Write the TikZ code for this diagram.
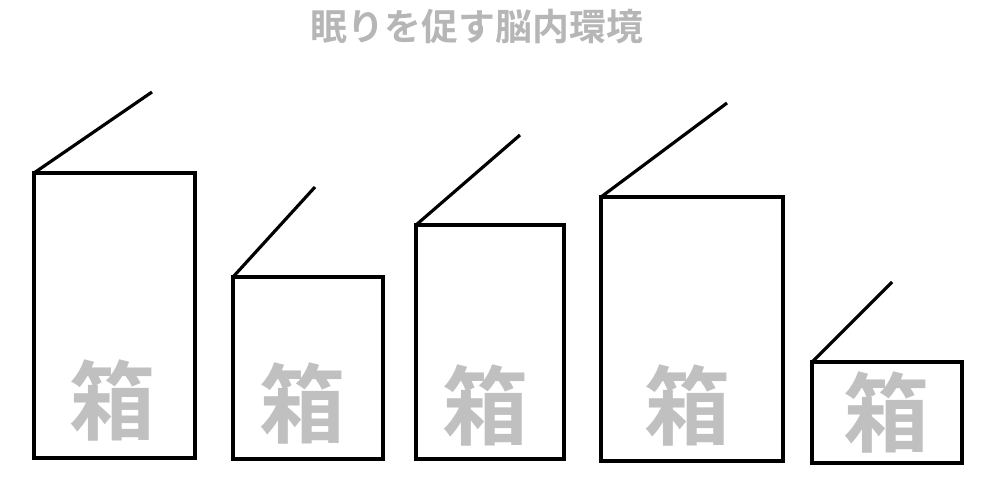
\documentclass[tikz,border=0pt]{standalone}
\usepackage{fontspec}
\newfontfamily\jpbold{Noto Sans CJK JP Bold}
\definecolor{titlegray}{RGB}{182,182,182}
\definecolor{boxgray}{RGB}{192,192,192}

\begin{document}
\begin{tikzpicture}[x=0.02cm,y=-0.02cm,line width=1.8pt,
      box/.style={draw,line width=1.8pt},
      lid/.style={draw,line width=1.8pt},
      hako/.style={text=boxgray,inner sep=0pt,font=\jpbold\fontsize{49}{49}\selectfont},
      heading/.style={text=titlegray,inner sep=0pt,font=\jpbold\fontsize{21}{21}\selectfont}]
  \useasboundingbox (0,0) rectangle (1000,500);
  \node[heading] (title) at (477,27) {眠りを促す脳内環境};
  % boxes
  \draw[box] (34,173) coordinate (b1) rectangle (195,458);
  \draw[box] (233,277) coordinate (b2) rectangle (383,459);
  \draw[box] (416,225) coordinate (b3) rectangle (564,459);
  \draw[box] (601,197) coordinate (b4) rectangle (783,461);
  \draw[box] (812,362) coordinate (b5) rectangle (962,463);
  % lids
  \coordinate (l1) at (152,92);
  \coordinate (l2) at (315,187);
  \coordinate (l3) at (520,135);
  \coordinate (l4) at (727,103);
  \coordinate (l5) at (892,282);
  \draw[lid] (b1) -- (l1);
  \draw[lid] (b2) -- (l2);
  \draw[lid] (b3) -- (l3);
  \draw[lid] (b4) -- (l4);
  \draw[lid] (b5) -- (l5);
  % labels
  \node[hako] (h1) at (113,400) {箱};
  \node[hako] (h2) at (303,403) {箱};
  \node[hako] (h3) at (486,405) {箱};
  \node[hako] (h4) at (688,405) {箱};
  \node[hako] (h5) at (887,412) {箱};
\end{tikzpicture}
\end{document}
